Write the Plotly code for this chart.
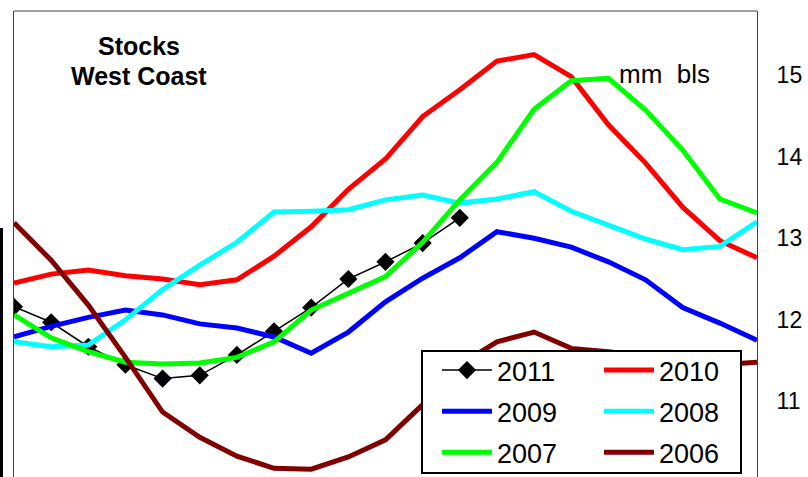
import plotly.graph_objects as go

# ---- data ----
weeks = list(range(21))
s2011 = [12.16, 11.97, 11.67, 11.45, 11.28, 11.32, 11.57, 11.86, 12.15, 12.50, 12.71, 12.94, 13.25]
s2010 = [12.45, 12.56, 12.61, 12.54, 12.50, 12.43, 12.49, 12.78, 13.14, 13.60, 13.97, 14.49, 14.82,
         15.17, 15.25, 14.98, 14.39, 13.92, 13.38, 12.97, 12.76]
s2009 = [11.79, 11.92, 12.03, 12.12, 12.06, 11.95, 11.90, 11.79, 11.59, 11.85, 12.22, 12.51, 12.76,
         13.08, 13.00, 12.89, 12.71, 12.49, 12.15, 11.96, 11.75]
s2008 = [11.73, 11.67, 11.69, 12.00, 12.37, 12.67, 12.95, 13.32, 13.33, 13.35, 13.47, 13.53, 13.43,
         13.48, 13.57, 13.33, 13.16, 12.99, 12.86, 12.90, 13.20]
s2007 = [12.06, 11.78, 11.61, 11.48, 11.46, 11.47, 11.54, 11.73, 12.12, 12.33, 12.53, 12.95, 13.47,
         13.93, 14.58, 14.93, 14.96, 14.57, 14.08, 13.48, 13.31]
s2006 = [13.19, 12.73, 12.18, 11.54, 10.87, 10.56, 10.33, 10.18, 10.17, 10.32, 10.53, 10.96, 11.45,
         11.73, 11.85, 11.65, 11.61, 11.56, 11.51, 11.45, 11.48]
y_ticks = [10, 11, 12, 13, 14, 15]

FONT = "Liberation Sans, Arial, sans-serif"

fig = go.Figure()
fig.add_trace(go.Scatter(x=weeks[:len(s2011)], y=s2011, name="2011", mode="lines+markers",
                         line=dict(color="black", width=1.5),
                         marker=dict(symbol="diamond", size=14, color="black"),
                         legend="legend", legendgroup="a"))
fig.add_trace(go.Scatter(x=weeks, y=s2010, name="2010", mode="lines",
                         line=dict(color="#FF0000", width=5), legend="legend2", legendgroup="b"))
fig.add_trace(go.Scatter(x=weeks, y=s2009, name="2009", mode="lines",
                         line=dict(color="#0000FF", width=5), legend="legend", legendgroup="c"))
fig.add_trace(go.Scatter(x=weeks, y=s2008, name="2008", mode="lines",
                         line=dict(color="#00FFFF", width=5), legend="legend2", legendgroup="d"))
fig.add_trace(go.Scatter(x=weeks, y=s2007, name="2007", mode="lines",
                         line=dict(color="#00FF00", width=5), legend="legend", legendgroup="e"))
fig.add_trace(go.Scatter(x=weeks, y=s2006, name="2006", mode="lines",
                         line=dict(color="#800000", width=5), legend="legend2", legendgroup="f"))

W, H = 808, 477
L, R, T, B = 14, 51, 11, 0
pw, ph = W - L - R, H - T - B

def px(xp):
    return (xp - L) / pw

def py(yp):
    return (H - B - yp) / ph

leg_common = dict(font=dict(family=FONT, size=27, color="black"), bgcolor="rgba(0,0,0,0)",
                  borderwidth=0, itemwidth=50, tracegroupgap=3, yanchor="top", xanchor="left",
                  orientation="v", traceorder="grouped")

fig.update_layout(
    width=W, height=H,
    margin=dict(l=L, r=R, t=T, b=B, pad=0, autoexpand=False),
    paper_bgcolor="white", plot_bgcolor="white",
    font=dict(family=FONT, color="black"),
    xaxis=dict(range=[0, 20], showgrid=False, zeroline=False, showticklabels=False,
               showline=False, ticks="", automargin=False),
    yaxis=dict(range=[10.074, 15.784], side="right", tickvals=y_ticks, showgrid=False,
               zeroline=False, showline=True, mirror=True, linecolor="#404040", linewidth=1,
               ticks="", ticklabelstandoff=14, automargin=False,
               tickfont=dict(family=FONT, size=23, color="black")),
    legend=dict(x=px(437), y=py(346), **leg_common),
    legend2=dict(x=px(599), y=py(346), **leg_common),
    showlegend=True,
)

# legend frame
fig.add_shape(type="rect", xref="paper", yref="paper", x0=px(422), x1=px(741), y0=py(473), y1=py(351),
              line=dict(color="black", width=2), fillcolor="white", layer="above")
# top border of plot area
fig.add_shape(type="line", xref="paper", yref="paper", x0=0, x1=1, y0=1, y1=1,
              line=dict(color="#404040", width=1))
# black bar at far left edge
fig.add_shape(type="rect", xref="paper", yref="paper", x0=px(0), x1=px(3), y0=py(477), y1=py(228),
              line=dict(width=0), fillcolor="black")

ann_font = dict(family=FONT, size=25, color="black")
fig.add_annotation(text="<b>Stocks</b>", xref="paper", yref="paper", x=px(139), y=py(46),
                   xanchor="center", yanchor="middle", showarrow=False, font=ann_font)
fig.add_annotation(text="<b>West Coast</b>", xref="paper", yref="paper", x=px(139), y=py(76),
                   xanchor="center", yanchor="middle", showarrow=False, font=ann_font)
fig.add_annotation(text="mm\u00a0\u00a0bls", xref="paper", yref="paper", x=px(617), y=py(74),
                   xanchor="left", yanchor="middle", showarrow=False,
                   font=dict(family=FONT, size=26, color="black"))

fig.write_html("out.html", config={"displayModeBar": False},
               post_script="document.body.style.margin='0';")
